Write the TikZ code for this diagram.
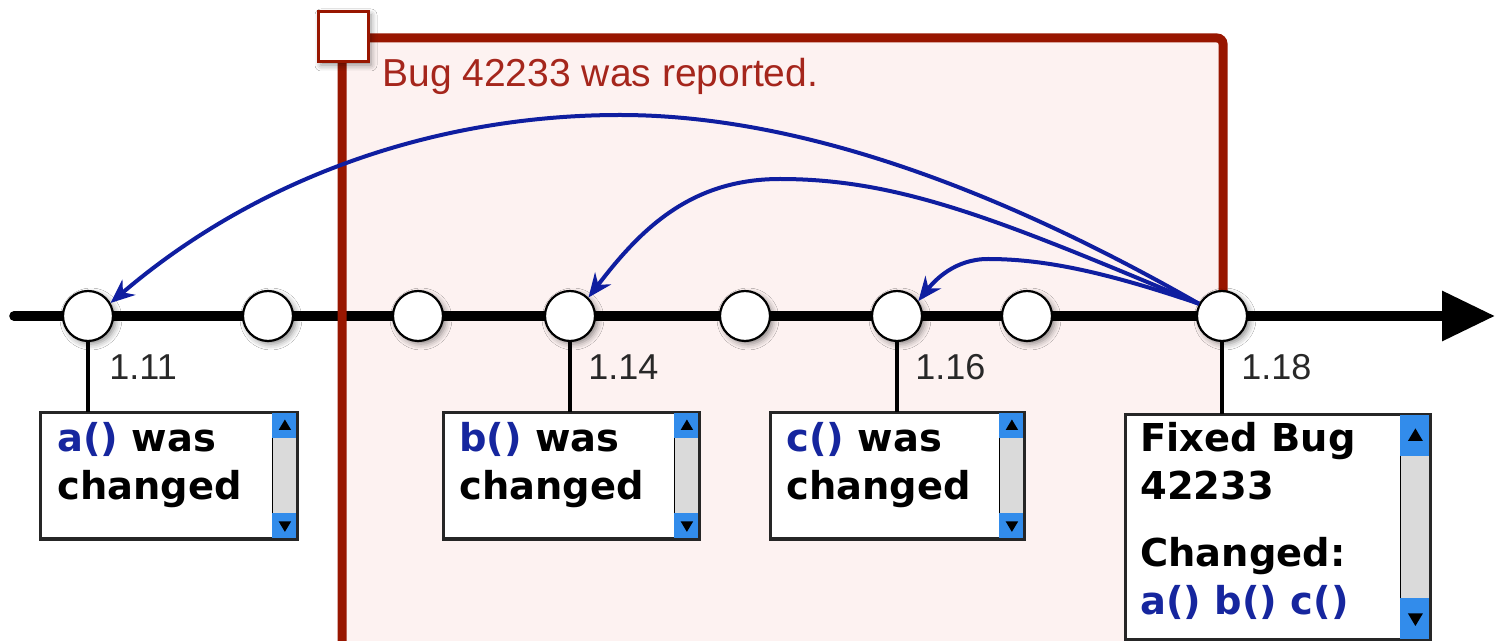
\documentclass[tikz,border=0pt]{standalone}
\usepackage{fontspec}
\newfontfamily\bxf{DejaVu Sans}
\newfontfamily\lbf{Liberation Sans}
\usetikzlibrary{arrows.meta,calc,shadows.blur}
\definecolor{bugred}{RGB}{152,22,0}
\definecolor{bugtext}{RGB}{165,38,28}
\definecolor{pinkbg}{RGB}{253,242,241}
\definecolor{fnblue}{RGB}{22,38,158}
\definecolor{arrblue}{RGB}{15,30,160}
\definecolor{btnblue}{RGB}{50,140,235}
\definecolor{trackgray}{RGB}{218,218,218}
\definecolor{lblgray}{RGB}{40,40,40}
\newcommand\drawscroll[3]{%
  \path ($(#1.north east)+(-#2,0)$) coordinate (#1sa) (#1.south east) coordinate (#1sb);
  \draw[fill=trackgray, line width=0.9pt] (#1sa) rectangle (#1sb);
  \fill[btnblue] (#1sa) rectangle ($(#1.north east)+(0,#3)$);
  \fill[btnblue] ($(#1sb)+(-#2,-#3)$) rectangle (#1sb);
  \fill[black] ($(#1.north east)+(-#2/2-0.25*#2,#3/2+0.2*#2)$) -- ($(#1.north east)+(-#2/2+0.25*#2,#3/2+0.2*#2)$) -- ($(#1.north east)+(-#2/2,#3/2-0.22*#2)$) -- cycle;
  \fill[black] ($(#1.south east)+(-#2/2-0.25*#2,-#3/2-0.2*#2)$) -- ($(#1.south east)+(-#2/2+0.25*#2,-#3/2-0.2*#2)$) -- ($(#1.south east)+(-#2/2,-#3/2+0.22*#2)$) -- cycle;
  \draw[line width=1.2pt, draw=black!85] (#1.north west) rectangle (#1.south east);
}
\begin{document}
\begin{tikzpicture}[x=0.5pt,y=-0.5pt,
  rev/.style={circle, draw=black, line width=1.1pt, fill=white, minimum size=25pt, inner sep=0pt,
    blur shadow={shadow xshift=1.5pt, shadow yshift=-1.5pt, shadow blur radius=3pt, shadow opacity=45}},
  cbox/.style={draw=black!85, line width=1.2pt, fill=white, anchor=north west, inner sep=0pt},
  btxt/.style={anchor=base west, inner sep=0pt, font=\bxf\bfseries\fontsize{19.2}{24}\selectfont},
  vlabel/.style={anchor=base west, inner sep=0pt, text=lblgray, font=\lbf\fontsize{18}{21}\selectfont},
  vconn/.style={draw=black, line width=1.6pt},
  barr/.style={draw=arrblue, line width=2pt, -{Stealth[length=12pt,width=10pt]}},
  timeline/.style={draw=black, line width=4.8pt, line cap=round, -{Triangle[length=26.5pt,width=24pt]}}
]
\useasboundingbox (0,0) rectangle (1495,641);
\fill[white] (0,0) rectangle (1495,641);
% pink region
\fill[pinkbg] (342,38) rectangle (1223,660);
% timeline
\coordinate (tstart) at (14,316);
\coordinate (tend) at (1495,316);
\draw[timeline] (tstart) -- (tend);
% red border
\draw[bugred, line width=4.5pt, rounded corners=3pt] (342,660) -- (342,38) -- (1223,38) -- (1223,316);
% revision nodes (positions)
\foreach \i/\x in {1/88,2/268,3/418,4/570,5/745,6/897,7/1027,8/1222}
  \coordinate (p\i) at (\x,316);
% boxes
\node[cbox, minimum width=127.5pt, minimum height=62.5pt] (ba) at (40,412) {};
\node[cbox, minimum width=127pt, minimum height=62.5pt] (bb) at (443,412) {};
\node[cbox, minimum width=126pt, minimum height=62.5pt] (bc) at (770,412) {};
\node[cbox, minimum width=151.5pt, minimum height=112pt] (bd) at (1125,414) {};
\drawscroll{ba}{25}{26}
\drawscroll{bb}{25}{26}
\drawscroll{bc}{25}{26}
\drawscroll{bd}{30}{42}
\node[btxt] (ta) at ($(ba.north west)+(17,40)$) {\parbox[t]{110pt}{\raggedright\textcolor{fnblue}{a()} was\\changed}};
\node[btxt] (tb) at ($(bb.north west)+(16,40)$) {\parbox[t]{110pt}{\raggedright\textcolor{fnblue}{b()} was\\changed}};
\node[btxt] (tc) at ($(bc.north west)+(16,40)$) {\parbox[t]{110pt}{\raggedright\textcolor{fnblue}{c()} was\\changed}};
\node[btxt] (td) at ($(bd.north west)+(15,38)$) {\parbox[t]{135pt}{\raggedright Fixed Bug\\42233\\[9.5pt]Changed:\\\textcolor{fnblue}{a() b() c()}}};
% circles
\foreach \i in {1,...,8}
  \node[rev] (n\i) at (p\i) {};
% vertical connectors
\draw[vconn] (n1.south) -- (n1.south |- ba.north);
\draw[vconn] (n4.south) -- (n4.south |- bb.north);
\draw[vconn] (n6.south) -- (n6.south |- bc.north);
\draw[vconn] (n8.south) -- (n8.south |- bd.north);
% version labels
\node[vlabel] (l1) at (109,380) {1.11};
\node[vlabel] (l4) at (588,380) {1.14};
\node[vlabel] (l6) at (915,380) {1.16};
\node[vlabel] (l8) at (1241,380) {1.18};
% blue arrows
\draw[barr] (n8.152) .. controls (1000,190) and (800,115) .. (620,115) .. controls (440,115) and (260,175) .. (n1.30);
\draw[barr] (n8.152) .. controls (1000,220) and (900,179) .. (780,179) .. controls (690,179) and (640,230) .. (n4.45);
\draw[barr] (n8.152) .. controls (1100,270) and (1040,259) .. (988,259) .. controls (955,259) and (935,280) .. (n6.35);
% flag square and label
\node[draw=bugred, line width=1.5pt, fill=white, minimum size=25pt, inner sep=0pt,
  blur shadow={shadow xshift=1.5pt, shadow yshift=-1.5pt, shadow blur radius=3pt, shadow opacity=45}] (flag) at (343,37) {};
\node[anchor=base west, inner sep=0pt, text=bugtext, font=\lbf\fontsize{19.5}{23}\selectfont] (bugtxt) at (382,87) {Bug 42233 was reported.};
\end{tikzpicture}
\end{document}
